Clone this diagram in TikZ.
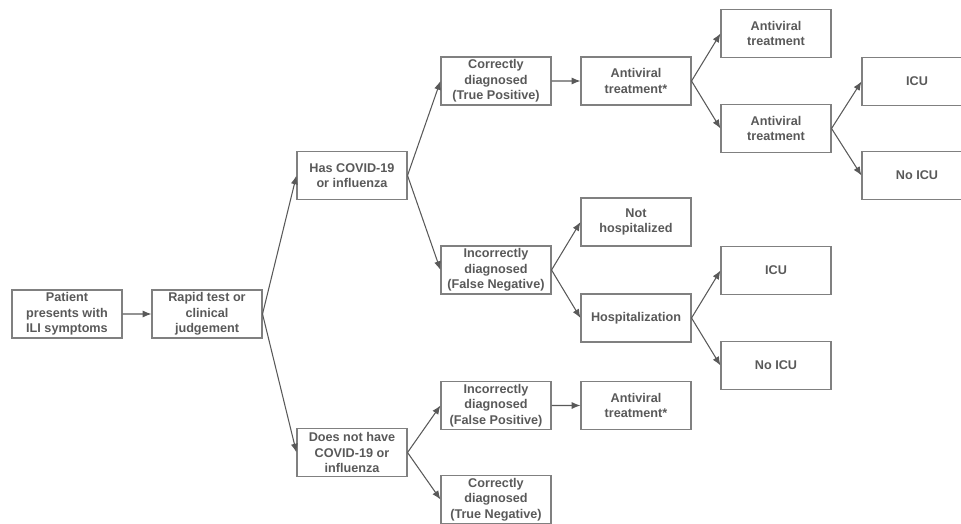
\documentclass[tikz,border=0pt]{standalone}
\usepackage{fontspec}
\setmainfont{Liberation Sans}
\usetikzlibrary{arrows.meta}
\definecolor{boxgray}{HTML}{808080}
\definecolor{textgray}{HTML}{595959}
\tikzset{
  box/.style={draw=boxgray, line width=0.6pt, text=textgray,
    font=\fontsize{7.2}{8.8}\selectfont\bfseries, align=center,
    minimum width=2.2cm, minimum height=0.96cm, inner sep=1pt}
}
\begin{document}
\begin{tikzpicture}[grow'=right,
  level 1/.style={level distance=2.8cm},
  level 2/.style={level distance=2.9cm, sibling distance=5.54cm},
  level 3/.style={level distance=2.88cm, sibling distance=1.88cm},
  level 4/.style={level distance=2.8cm, sibling distance=1.92cm},
  level 5/.style={level distance=2.8cm, sibling distance=1.9cm},
  level 6/.style={level distance=2.82cm, sibling distance=1.88cm},
  edge from parent/.style={draw=textgray, line width=0.6pt, -{Latex[length=5pt,width=4pt]}},
  edge from parent path={(\tikzparentnode.east) -- (\tikzchildnode.west)}]
  \useasboundingbox (0,0) rectangle (19.22,-10.48);
  \node[box] (patient) at (1.34,-6.28) {Patient\\presents with\\ILI symptoms}
    child {node[box] (rapid) {Rapid test or\\clinical\\judgement}
      child {node[box] (has) {Has COVID-19\\or influenza}
        child[sibling distance=3.78cm] {node[box] (tp) {Correctly\\diagnosed\\(True Positive)}
          child {node[box] (tpav) {Antiviral\\treatment*}
            child {node[box] (av1) {Antiviral\\treatment}}
            child {node[box] (av2) {Antiviral\\treatment}
              child {node[box] (icu1) {ICU}}
              child {node[box] (noicu1) {No ICU}}
            }
          }
        }
        child[sibling distance=3.78cm] {node[box] (fn) {Incorrectly\\diagnosed\\(False Negative)}
          child {node[box] (nothosp) {Not\\hospitalized}}
          child {node[box] (hosp) {Hospitalization}
            child {node[box] (icu2) {ICU}}
            child {node[box] (noicu2) {No ICU}}
          }
        }
      }
      child {node[box] (hasnot) {Does not have\\COVID-19 or\\influenza}
        child {node[box] (fp) {Incorrectly\\diagnosed\\(False Positive)}
          child {node[box] (fpav) {Antiviral\\treatment*}}
        }
        child {node[box] (tn) {Correctly\\diagnosed\\(True Negative)}}
      }
    };
\end{tikzpicture}
\end{document}
